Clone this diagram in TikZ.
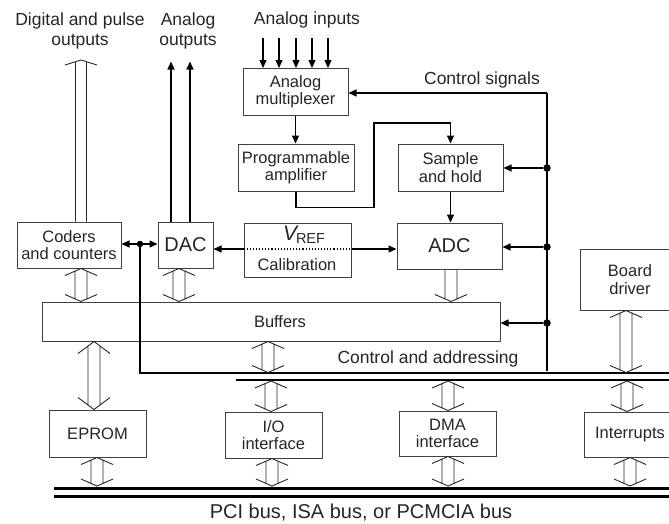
\documentclass[tikz,border=0pt]{standalone}
\usepackage{fontspec}
\setmainfont{Liberation Sans}
\usetikzlibrary{arrows.meta,calc}
% hollow double-headed bus arrow: #2 top point, #3 bottom point (same x as #2)
\newcommand\hollowboth[3][7]{%
  \draw[hollow] let \p1=(#2), \p2=(#3), \n1={#1*0.375} in
   ({\x1-16pt},{\y1-#1pt}) -- (\x1,\y1) -- ({\x1+16pt},{\y1-#1pt})
   ({\x1-6pt},{\y1-\n1*1pt}) -- ({\x1-6pt},{\y2+\n1*1pt})
   ({\x1+6pt},{\y1-\n1*1pt}) -- ({\x1+6pt},{\y2+\n1*1pt})
   ({\x1-16pt},{\y2+#1pt}) -- (\x1,\y2) -- ({\x1+16pt},{\y2+#1pt});}
% head at bottom only
\newcommand\hollowdown[3][7]{%
  \draw[hollow] let \p1=(#2), \p2=(#3), \n1={#1*0.375} in
   ({\x1-6pt},\y1) -- ({\x1-6pt},{\y2+\n1*1pt})
   ({\x1+6pt},\y1) -- ({\x1+6pt},{\y2+\n1*1pt})
   ({\x1-16pt},{\y2+#1pt}) -- (\x1,\y2) -- ({\x1+16pt},{\y2+#1pt});}
% head at top only
\newcommand\hollowup[3][5]{%
  \draw[hollow] let \p1=(#2), \p2=(#3), \n1={#1*0.375} in
   ({\x1-16pt},{\y1-#1pt}) -- (\x1,\y1) -- ({\x1+16pt},{\y1-#1pt})
   ({\x1-5.5pt},{\y1-\n1*1pt}) -- ({\x1-5.5pt},\y2)
   ({\x1+5.5pt},{\y1-\n1*1pt}) -- ({\x1+5.5pt},\y2);}
\begin{document}
\begin{tikzpicture}[x=1pt,y=-1pt,
  box/.style={draw=black!75, line width=1pt, fill=white, inner sep=0pt, align=center,
    font=\fontsize{16.5}{17.5}\selectfont, text=black!85},
  bigtext/.style={font=\fontsize{20}{22}\selectfont},
  lbl/.style={inner sep=0pt, align=center, font=\fontsize{17.5}{20}\selectfont, text=black!85},
  conn/.style={draw=black, line width=1.1pt},
  arr/.style={conn, -{Triangle[length=8pt,width=7pt]}},
  hollow/.style={draw=black!85, line width=0.9pt},
  dot/.style={circle, fill=black, inner sep=0pt, minimum size=7.5pt},
  bus/.style={draw=black, line width=3pt}]
\useasboundingbox (0,0) rectangle (669,523);
\fill[white] (0,0) rectangle (669,523);
\clip (0,0) rectangle (669,523);

% ---- free labels
\node[lbl] (ldig) at (80,31) {Digital and pulse\\outputs};
\node[lbl] (lana) at (188,31) {Analog\\outputs};
\node[lbl] (lin) at (307,20) {Analog inputs};
\node[lbl] (lcs) at (482,80) {Control signals};
\node[lbl] (lca) at (428,359) {Control and addressing};
\node[lbl, bigtext] (lbus) at (361,513) {PCI bus, ISA bus, or PCMCIA bus};

% ---- boxes
\node[box, minimum width=105pt, minimum height=47pt] (mux) at (295.5,91.5) {Analog\\multiplexer};
\node[box, minimum width=116pt, minimum height=47pt] (prog) at (296,167.5) {Programmable\\amplifier};
\node[box, minimum width=105pt, minimum height=47pt] (sh) at (450.5,167.5) {Sample\\and hold};
\node[box, bigtext, minimum width=105pt, minimum height=46pt] (adc) at (449.5,246) {ADC};
\node[box, minimum width=107pt, minimum height=54pt] (vref) at (297.5,250) {};
\node[box, bigtext, minimum width=55pt, minimum height=46pt] (dac) at (185.5,245) {DAC};
\node[box, minimum width=104pt, minimum height=46pt] (coders) at (69,245) {Coders\\and counters};
\node[box, minimum width=458pt, minimum height=39pt] (buf) at (271,321.5) {\hspace*{18pt}Buffers};
\node[box, minimum width=100pt, minimum height=61pt] (board) at (630,279.5) {Board\\driver};
\node[box, minimum width=97pt, minimum height=47pt] (eprom) at (97.5,433.5) {EPROM};
\node[box, minimum width=97pt, minimum height=46pt] (io) at (273.5,435) {I/O\\interface};
\node[box, minimum width=97pt, minimum height=45pt] (dma) at (447.5,433.5) {DMA\\interface};
\node[box, minimum width=92pt, minimum height=45pt] (intr) at (630,434.5) {Interrupts};

% VREF / Calibration contents
\node[inner sep=0pt, text=black!85] (vtxt) at (304,235)
  {{\fontsize{21}{21}\selectfont\itshape V}\kern-1pt\raisebox{-2.5pt}{\fontsize{14.5}{14.5}\selectfont REF}};
\node[inner sep=0pt, text=black!85, font=\fontsize{16.5}{17.5}\selectfont] (cal) at (297,265) {Calibration};

% ---- analog inputs
\foreach \xx in {263,279,296,312,328} \draw[arr] (\xx,38) -- (\xx,68);
\draw[arr] (mux.south) -- (mux.south |- prog.north);

% ---- analog outputs
\draw[arr] ([xshift=-14.5pt]dac.north) -- ++(0,-160);
\draw[arr] ([xshift=4.5pt]dac.north) -- ++(0,-160);

% ---- control signals
\coordinate (cs) at (547,93);
\coordinate (csb) at (547,371);
\draw[conn] (cs) -- (csb);
\draw[arr] (cs) -- (mux.east |- cs);
\node[dot] (d1) at (547,168) {};
\node[dot] (d2) at (547,247) {};
\node[dot] (d3) at (547,323) {};
\draw[arr] (d1) -- (sh.east |- d1);
\draw[arr] (d2) -- (adc.east |- d2);
\draw[arr] (d3) -- (buf.east |- d3);

% ---- signal path
\coordinate (lp) at (374,123);
\draw[arr] (prog.south) -- ++(0,16) -| (lp) -| (sh.north);
\draw[arr] (sh.south) -- (sh.south |- adc.north);

\coordinate (vy) at (0,249);
\draw[arr] (vref.east |- vy) -- (adc.west |- vy);
\draw[arr] (vref.west |- vy) -- (dac.east |- vy);
\draw[dotted, line width=1.1pt] (vref.west |- vy) -- (vref.east |- vy);

% ---- coders / DAC junction and control and addressing lines
\node[dot, minimum size=6.5pt] (j1) at (140,244) {};
\draw[arr] (j1) -- (coders.east |- j1);
\draw[arr] (j1) -- (dac.west |- j1);
\coordinate (ca) at (675,373);
\draw[conn] (j1) |- (ca);
\coordinate (cb0) at (236,380);
\coordinate (cb1) at (675,380);
\draw[conn] (cb0) -- (cb1);

% ---- PC bus
\coordinate (pb0) at (54,488);
\coordinate (pb1) at (675,488);
\coordinate (pc0) at (54,496);
\coordinate (pc1) at (675,496);
\draw[bus] (pb0) -- (pb1);
\draw[bus] (pc0) -- (pc1);

% ---- hollow bus arrows
\coordinate (xa) at (81,60);
\hollowup{xa}{coders.north -| xa}
\hollowboth{coders.south -| xa}{buf.north -| xa}
\coordinate (xc) at (179,0);
\hollowboth{dac.south -| xc}{buf.north -| xc}
\coordinate (xd) at (451,0);
\hollowdown{adc.south -| xd}{buf.north -| xd}
\coordinate (xe) at (94,0);
\hollowboth[12]{buf.south -| xe}{eprom.north -| xe}
\coordinate (xf) at (268,372.5);
\hollowboth{buf.south -| xf}{xf}
\coordinate (xg) at (626,372.5);
\hollowboth{board.south -| xg}{xg}
\coordinate (xh) at (271,381);
\hollowboth{xh}{io.north -| xh}
\coordinate (xi) at (448,381);
\hollowboth{xi}{dma.north -| xi}
\coordinate (xj) at (627,381);
\hollowboth{xj}{intr.north -| xj}
\coordinate (xk) at (97,486);
\hollowboth{eprom.south -| xk}{xk}
\coordinate (xl) at (272,486);
\hollowboth{io.south -| xl}{xl}
\coordinate (xm) at (448,486);
\hollowboth{dma.south -| xm}{xm}
\coordinate (xn) at (630,486);
\hollowboth{intr.south -| xn}{xn}
\end{tikzpicture}
\end{document}
